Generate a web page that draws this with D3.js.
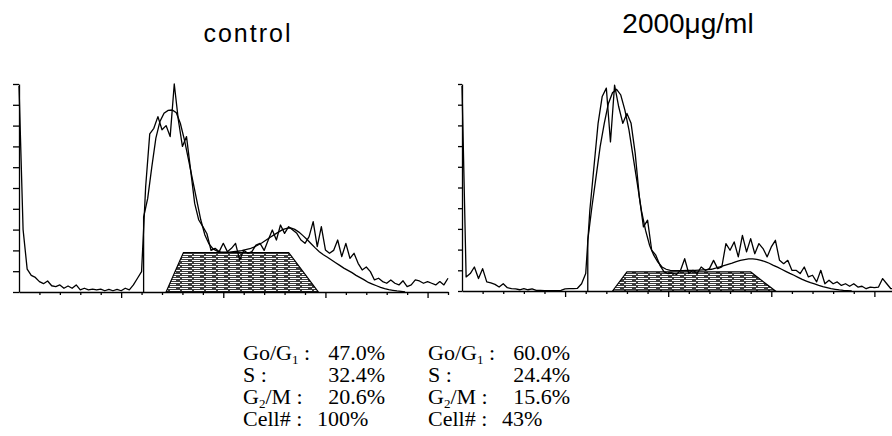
<!DOCTYPE html>
<html>
<head>
<meta charset="utf-8">
<script src="https://cdn.jsdelivr.net/npm/d3@7"></script>
<style>
  body { margin: 0; background: #fff; }
</style>
</head>
<body>
<div id="container"></div>
<script>
// DNA content histograms, one count per 2 channels (channel 0..210)
const rawControl = [
  99, 30, 11, 8, 7, 5, 4, 5.3, 3, 2.6,
  3.4, 1.8, 2.9, 1.8, 3.4, 1, 1.8, 1, 1.4, 1,
  1.4, 0.6, 1.3, 0.6, 1.3, 0.6, 1.8, 1, 3.4, 6.6,
  9.8, 50.6, 76, 78.7, 84.3, 78, 80, 74.7, 100, 82.7,
  70, 74.7, 58.7, 42.6, 34.6, 31.4, 28, 20, 21, 19.4,
  23.4, 19.4, 21, 23.4, 15.4, 20, 18.6, 19.4, 22.6, 23.4,
  20, 25, 29.8, 25, 32.2, 28.2, 31.4, 29.8, 28.2, 25,
  23.4, 26.6, 33.8, 21.8, 31.4, 20.2, 18.6, 20, 25, 17,
  23.4, 16.2, 18.6, 13.8, 10.6, 12, 9.8, 5.8, 6.6, 5,
  4.2, 5.8, 4.2, 3.4, 5.4, 2.6, 3.4, 5.8, 5.3, 4.2,
  5, 4.2, 3.4, 5, 3.4, 6.6
];
const rawTreated = [
  99, 6.8, 8.4, 11.6, 6, 10.8, 4.4, 3.9, 3.2, 1.9,
  3.5, 1.6, 1.1, 1, 0.6, 1.1, 0.6, 1, 0.3, 0.3,
  0.2, 0.2, 0.2, 0.2, 0.3, 1, 1.1, 1.1, 1.3, 3.5,
  8.4, 39, 60, 81, 94, 98, 72, 99.5, 89, 81,
  85.8, 81, 66.5, 45.5, 31, 34.2, 19.7, 17.3, 12.4, 9.2,
  8.4, 8.7, 8, 10, 15.6, 8.4, 10, 8.4, 11.6, 10,
  10.8, 14.8, 10.8, 11.6, 22.9, 19.7, 23.7, 16.5, 26.9, 18.9,
  25.3, 18, 22.9, 20.5, 16.5, 21.3, 24.5, 14.8, 13.2, 14.8,
  10, 10, 8.4, 11.6, 6.8, 7.6, 4.4, 10, 3.5, 5.2,
  3.5, 4.4, 2.7, 3.5, 2.3, 3.5, 1.9, 2.3, 1.1, 1.9,
  1.6, 1.9, 6, 3.5, 1.1, 1.1
];

// fitted model curve, one value per 2 channels starting at channel 61
const fitStart = 61;
const fitControl = [
  36, 45, 60, 74, 82, 86, 87.3, 87.5, 86.2, 81,
  73, 63.5, 53.8, 44.2, 34.6, 27.4, 23.1, 20.7, 19.7, 19.2,
  19.2, 19.2, 19.4, 19.6, 19.9, 20.4, 20.8, 21.6, 22.6, 23.7,
  25, 26.3, 27.6, 28.8, 30, 30.6, 30.8, 30.1, 28.8, 27.1,
  25.2, 23.2, 21.2, 19.4, 17.9, 16.7, 15.4, 14.1, 12.8, 11.5,
  10.4, 9.3, 8, 6.9, 5.8, 4.6, 3.8, 3, 2.2, 1.6,
  1.1, 0.8, 0.5, 0.3, 0
];
const fitTreated = [
  24.5, 40.6, 55, 69.7, 81, 90.6, 95.8, 97.4, 94.7, 87.4,
  77.7, 64.8, 52, 39, 29.4, 22, 17.3, 14, 11.6, 10.5,
  10, 9.8, 9.8, 9.8, 9.9, 10, 10, 10.1, 10.2, 10.3,
  10.5, 11, 11.6, 12.3, 12.9, 13.5, 14.2, 14.8, 15.2, 15.5,
  15.5, 15.3, 14.8, 14.2, 13.4, 12.4, 11.5, 10.5, 9.5, 8.5,
  7.6, 6.6, 5.6, 4.8, 4, 3.4, 2.7, 2.1, 1.6, 1.1,
  0.8, 0.5, 0.3, 0.2, 0
];

// S-phase trapezoid corners [channel, count]
const sControl = [[72, 0], [80.5, 19], [132, 19], [146.5, 0]];
const sTreated = [[73, 0], [80, 9.2], [140, 9.2], [152, 0]];

const panelTitles = ["control", "2000μg/ml"];
const phaseLabels = ["Go/G1 :", "S :", "G2/M :", "Cell# :"];
const statsControl = ["47.0%", "32.4%", "20.6%", "100%"];
const statsTreated = ["60.0%", "24.4%", "15.6%", "43%"];

const width = 892;
const height = 436;

const svg = d3.create("svg")
  .attr("width", width)
  .attr("height", height)
  .style("font-family", "'Liberation Sans', Arial, sans-serif");

// halftone-like fill used by the S-phase block
const pattern = svg.append("defs").append("pattern")
  .attr("id", "shade")
  .attr("patternUnits", "userSpaceOnUse")
  .attr("width", 12)
  .attr("height", 4);
pattern.append("rect").attr("width", 12).attr("height", 4).attr("fill", "#3c3c3c");
pattern.append("path")
  .attr("d", "M0,0.5H8M2,2.5H12")
  .attr("stroke", "#fff")
  .attr("stroke-width", 1);

function drawPanel(cfg) {
  const x = d3.scaleLinear().domain([0, 210]).range([cfg.left, cfg.right]);
  const y = d3.scaleLinear().domain([0, 100]).range([cfg.bottom, cfg.top]);
  const g = svg.append("g");

  g.append("path")
    .attr("d", d3.line().x(d => x(d[0])).y(d => y(d[1]))(cfg.sPhase) + "Z")
    .attr("fill", "url(#shade)")
    .attr("stroke", "#000")
    .attr("stroke-width", 1.2);

  const fitPts = [[fitStart, 0]].concat(cfg.fit.map((v, i) => [fitStart + i * 2, v]));
  g.append("path")
    .attr("d", d3.line().x(d => x(d[0])).y(d => y(d[1]))(fitPts))
    .attr("fill", "none")
    .attr("stroke", "#000")
    .attr("stroke-width", 1.3);

  g.append("path")
    .attr("d", d3.line().x((d, i) => x(i * 2)).y(d => y(d))(cfg.raw))
    .attr("fill", "none")
    .attr("stroke", "#000")
    .attr("stroke-width", 1.3)
    .attr("stroke-linejoin", "round");

  g.append("g")
    .attr("transform", `translate(${cfg.left},0)`)
    .call(d3.axisLeft(y).tickValues(d3.range(0, 101, 10)).tickSize(cfg.yTick).tickSizeOuter(0).tickFormat(""));

  const xAxis = g.append("g")
    .attr("transform", `translate(0,${cfg.bottom})`)
    .call(d3.axisBottom(x).tickValues(d3.range(10, 211, 10)).tickSize(3).tickSizeOuter(0).tickFormat(""));
  xAxis.selectAll(".tick line")
    .filter(d => d % 50 === 0)
    .attr("y2", 6);

  g.selectAll(".domain, .tick line")
    .attr("stroke", "#000")
    .attr("stroke-width", 1.3);

  g.append("text")
    .attr("x", cfg.titleX)
    .attr("y", cfg.titleY)
    .attr("text-anchor", "middle")
    .attr("font-size", cfg.titleSize)
    .attr("letter-spacing", cfg.titleSpacing)
    .text(cfg.title);
}

drawPanel({
  left: 19, right: 448, top: 84, bottom: 292, yTick: 6,
  raw: rawControl, fit: fitControl, sPhase: sControl,
  title: panelTitles[0], titleX: 248, titleY: 42, titleSize: "25px", titleSpacing: "2px"
});
drawPanel({
  left: 462, right: 895, top: 84, bottom: 291, yTick: 4,
  raw: rawTreated, fit: fitTreated, sPhase: sTreated,
  title: panelTitles[1], titleX: 688, titleY: 33, titleSize: "28px", titleSpacing: "0px"
});

// cell-cycle percentages
function drawStats(colX, values) {
  const g = svg.append("g")
    .style("font-family", "'Liberation Serif', 'Times New Roman', serif")
    .style("font-size", "22px");
  phaseLabels.forEach((label, i) => {
    const yPos = 360 + i * 22;
    const t = g.append("text").attr("x", colX).attr("y", yPos);
    let shift = 0;
    label.split(/(\d)/).filter(p => p !== "").forEach(part => {
      if (/^\d$/.test(part)) {
        t.append("tspan").attr("font-size", "13px").attr("dy", 4).text(part);
        shift = -4;
      } else {
        t.append("tspan").attr("dy", shift).text(part);
        shift = 0;
      }
    });
    const last = i === phaseLabels.length - 1;
    g.append("text")
      .attr("x", last ? colX + 74 : colX + 142)
      .attr("y", yPos)
      .attr("text-anchor", last ? "start" : "end")
      .text(values[i]);
  });
}
drawStats(243, statsControl);
drawStats(428, statsTreated);

d3.select("#container").append(() => svg.node());
</script>
</body>
</html>
